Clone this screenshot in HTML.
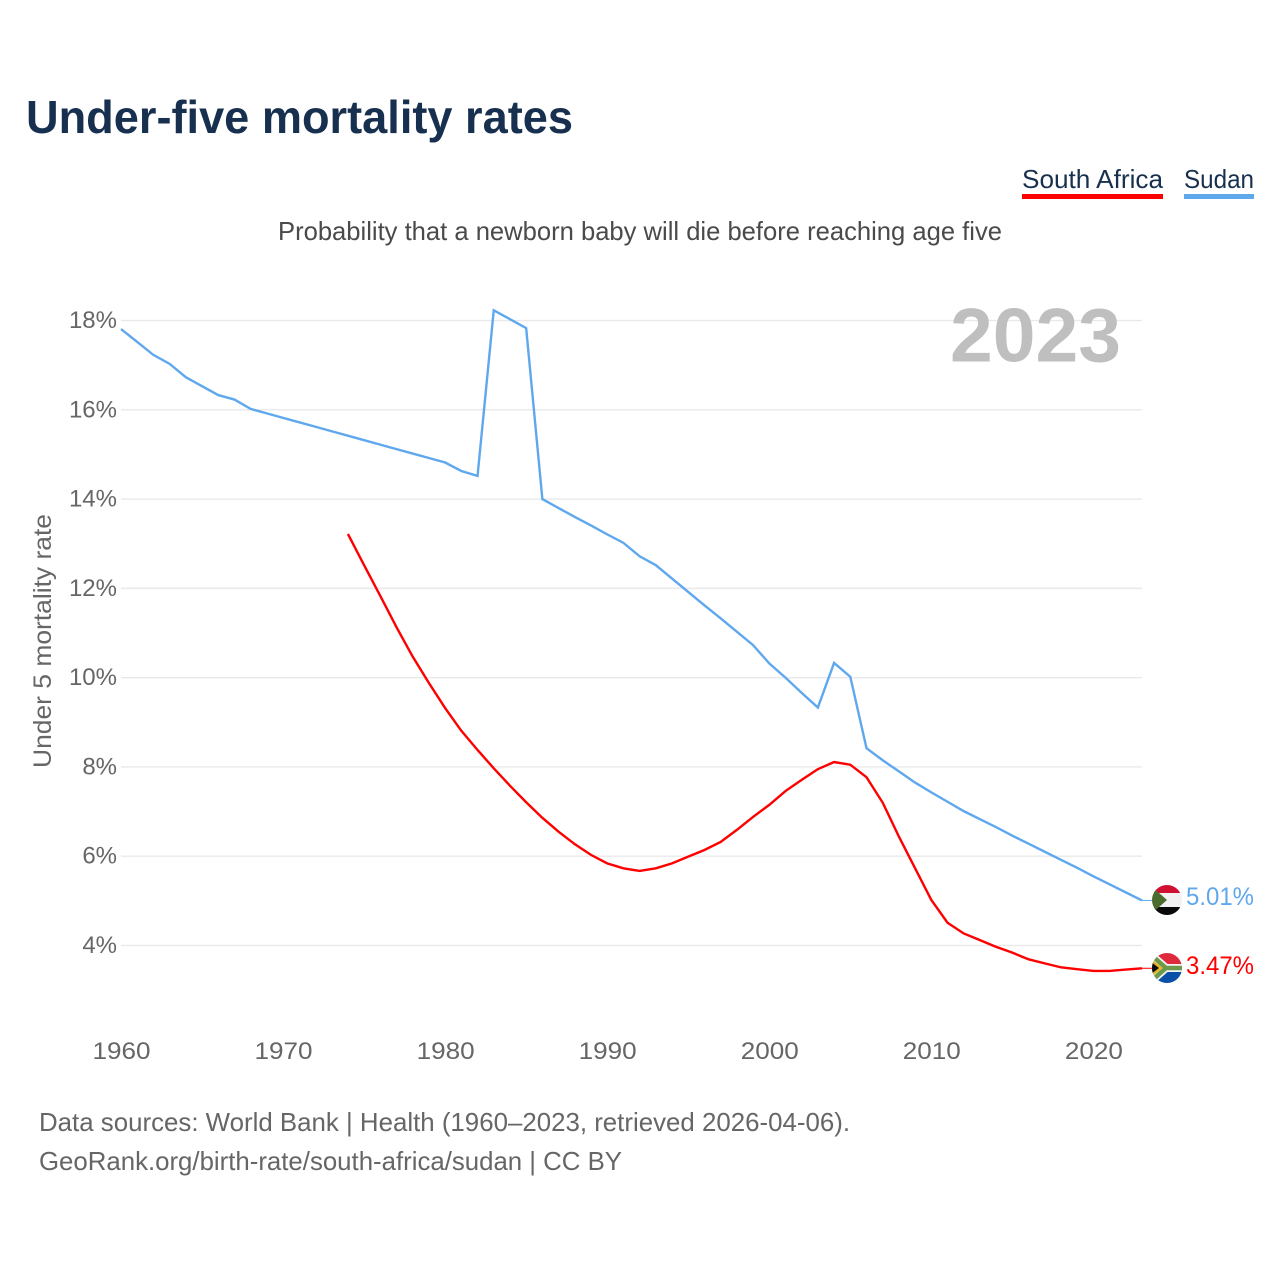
<!DOCTYPE html>
<html lang="en">
<head>
<meta charset="utf-8">
<title>Under-five mortality rates</title>
<style>
html,body{margin:0;padding:0;background:#fff;}
svg{display:block;}
text{font-family:"Liberation Sans",sans-serif;}
</style>
</head>
<body>
<svg id="chart" xmlns="http://www.w3.org/2000/svg" width="1280" height="1280" viewBox="0 0 1280 1280">
  <defs>
    <clipPath id="clip-sudan"><circle cx="1167" cy="900" r="15"/></clipPath>
    <clipPath id="clip-sa"><circle cx="1167" cy="968" r="15"/></clipPath>
  </defs>
  <rect width="1280" height="1280" fill="#fff"/>
  <text x="26" y="133" font-size="46" font-weight="700" fill="#18304f" textLength="547" lengthAdjust="spacingAndGlyphs">Under-five mortality rates</text>

  <g>
    <text x="1022" y="188" font-size="26" fill="#18304f" textLength="141" lengthAdjust="spacingAndGlyphs">South Africa</text>
    <rect x="1022" y="194" width="141" height="5" fill="#ff0000"/>
  </g>
  <g>
    <text x="1184" y="188" font-size="26" fill="#18304f" textLength="70" lengthAdjust="spacingAndGlyphs">Sudan</text>
    <rect x="1184" y="194" width="70" height="5" fill="#5fa8ee"/>
  </g>

  <text x="278" y="240" font-size="26" fill="#4a4a4a" textLength="724" lengthAdjust="spacingAndGlyphs">Probability that a newborn baby will die before reaching age five</text>
  <text transform="translate(51,768) rotate(-90)" font-size="25" fill="#666" textLength="254" lengthAdjust="spacingAndGlyphs">Under 5 mortality rate</text>

  <g id="grid"></g>
  <g id="y-ticks"></g>
  <g id="x-ticks"></g>

  <text x="950" y="361.5" font-size="76" font-weight="700" fill="#bfbfbf" textLength="171" lengthAdjust="spacingAndGlyphs">2023</text>

  <g id="series"></g>

  <g clip-path="url(#clip-sudan)">
    <rect x="1150" y="884" width="34" height="9" fill="#d21034"/>
    <rect x="1150" y="893" width="34" height="14" fill="#f2f2f2"/>
    <rect x="1150" y="907" width="34" height="9" fill="#0a0a0a"/>
    <polygon points="1150,885 1167,900 1150,915" fill="#4b6b2c"/>
  </g>
  <g clip-path="url(#clip-sa)">
    <rect x="1150" y="952" width="34" height="16" fill="#de2a3c"/>
    <rect x="1150" y="968" width="34" height="16" fill="#0a4fa8"/>
    <path d="M1148 952 L1166 968 H1184 M1148 984 L1166 968" fill="none" stroke="#f4f4f4" stroke-width="8"/>
    <path d="M1148 952 L1166 968 H1184 M1148 984 L1166 968" fill="none" stroke="#6a9a4a" stroke-width="4.5"/>
    <polygon points="1148,958 1161,968 1148,978" fill="#0a0a0a" stroke="#e6b72a" stroke-width="2.5"/>
  </g>
  <text id="label-sudan" x="1186" y="905" font-size="25" fill="#5fa8ee" textLength="68" lengthAdjust="spacingAndGlyphs">5.01%</text>
  <text id="label-sa" x="1186" y="974" font-size="25" fill="#ff0000" textLength="68" lengthAdjust="spacingAndGlyphs">3.47%</text>

  <text x="39" y="1131" font-size="26" fill="#666" textLength="811" lengthAdjust="spacingAndGlyphs">Data sources: World Bank | Health (1960–2023, retrieved 2026-04-06).</text>
  <text x="39" y="1170" font-size="26" fill="#666" textLength="583" lengthAdjust="spacingAndGlyphs">GeoRank.org/birth-rate/south-africa/sudan | CC BY</text>
</svg>

<script>
const years = [1960,1961,1962,1963,1964,1965,1966,1967,1968,1969,1970,1971,1972,1973,1974,1975,1976,1977,1978,1979,1980,1981,1982,1983,1984,1985,1986,1987,1988,1989,1990,1991,1992,1993,1994,1995,1996,1997,1998,1999,2000,2001,2002,2003,2004,2005,2006,2007,2008,2009,2010,2011,2012,2013,2014,2015,2016,2017,2018,2019,2020,2021,2022,2023];
const sudanValues = [17.81,17.52,17.23,17.03,16.73,16.53,16.33,16.23,16.02,15.92,15.82,15.72,15.62,15.52,15.42,15.32,15.22,15.12,15.02,14.92,14.82,14.63,14.52,18.23,18.03,17.83,14.0,13.8,13.6,13.41,13.21,13.02,12.72,12.52,12.22,11.92,11.62,11.33,11.03,10.73,10.32,10.0,9.66,9.33,10.33,10.02,8.42,8.15,7.9,7.65,7.43,7.22,7.01,6.83,6.65,6.46,6.28,6.1,5.92,5.74,5.55,5.37,5.19,5.01];
const southAfricaValues = [null,null,null,null,null,null,null,null,null,null,null,null,null,null,13.22,12.52,11.83,11.13,10.47,9.88,9.32,8.81,8.38,7.97,7.58,7.21,6.86,6.55,6.27,6.03,5.84,5.73,5.67,5.73,5.84,5.99,6.14,6.32,6.59,6.88,7.15,7.46,7.71,7.95,8.11,8.05,7.77,7.2,6.44,5.73,5.02,4.51,4.27,4.12,3.97,3.84,3.69,3.6,3.51,3.47,3.43,3.43,3.46,3.49];
const yTickValues = [4,6,8,10,12,14,16,18];
const xTickValues = [1960,1970,1980,1990,2000,2010,2020];

const SVG_NS = 'http://www.w3.org/2000/svg';
const xLeft = 121, xRight = 1142, year0 = 1960, year1 = 2023;
const yAt4 = 945.5, pxPerUnit = 44.64;
function xScale(year){ return xLeft + (year - year0) * (xRight - xLeft) / (year1 - year0); }
function yScale(val){ return yAt4 - (val - 4) * pxPerUnit; }

const gridGroup = document.getElementById('grid');
const yTickGroup = document.getElementById('y-ticks');
const xTickGroup = document.getElementById('x-ticks');
const seriesGroup = document.getElementById('series');

yTickValues.forEach(function(v){
  const line = document.createElementNS(SVG_NS,'line');
  
  
  line.setAttribute('x1', xLeft);
  line.setAttribute('x2', xRight);
  line.setAttribute('y1', yScale(v));
  line.setAttribute('y2', yScale(v));
  line.setAttribute('stroke', '#e9e9e9');
  line.setAttribute('stroke-width', '1.4');
  gridGroup.appendChild(line);

  const label = document.createElementNS(SVG_NS,'text');
  
  
  label.setAttribute('x', 117);
  label.setAttribute('y', yScale(v) + 7.5);
  label.setAttribute('text-anchor', 'end');
  label.setAttribute('font-size', '24');
  label.setAttribute('fill', '#666');
  label.textContent = v + '%';
  yTickGroup.appendChild(label);
});

xTickValues.forEach(function(t){
  const label = document.createElementNS(SVG_NS,'text');
  
  
  label.setAttribute('x', xScale(t) + 0.5);
  label.setAttribute('y', 1059);
  label.setAttribute('text-anchor', 'middle');
  label.setAttribute('font-size', '24');
  label.setAttribute('fill', '#666');
  label.setAttribute('textLength', '58');
  label.setAttribute('lengthAdjust', 'spacingAndGlyphs');
  label.textContent = String(t);
  xTickGroup.appendChild(label);
});

function seriesPoints(values){
  const pts = [];
  values.forEach(function(v,i){
    if (v !== null) pts.push(xScale(years[i]).toFixed(2) + ',' + yScale(v).toFixed(2));
  });
  return pts.join(' ');
}

const sudanLine = document.createElementNS(SVG_NS,'polyline');


sudanLine.setAttribute('points', seriesPoints(sudanValues));
sudanLine.setAttribute('fill', 'none');
sudanLine.setAttribute('stroke', '#5fa8ee');
sudanLine.setAttribute('stroke-width', '2.4');
seriesGroup.appendChild(sudanLine);

const southAfricaLine = document.createElementNS(SVG_NS,'polyline');


southAfricaLine.setAttribute('points', seriesPoints(southAfricaValues));
southAfricaLine.setAttribute('fill', 'none');
southAfricaLine.setAttribute('stroke', '#ff0000');
southAfricaLine.setAttribute('stroke-width', '2.4');
seriesGroup.appendChild(southAfricaLine);

const sudanConnector = document.createElementNS(SVG_NS,'line');


sudanConnector.setAttribute('x1', xRight);
sudanConnector.setAttribute('x2', xRight + 10);
sudanConnector.setAttribute('y1', yScale(sudanValues[sudanValues.length - 1]));
sudanConnector.setAttribute('y2', yScale(sudanValues[sudanValues.length - 1]));
sudanConnector.setAttribute('stroke', '#5fa8ee');
sudanConnector.setAttribute('stroke-width', '1');
seriesGroup.appendChild(sudanConnector);

const southAfricaConnector = document.createElementNS(SVG_NS,'line');


southAfricaConnector.setAttribute('x1', xRight);
southAfricaConnector.setAttribute('x2', xRight + 10);
southAfricaConnector.setAttribute('y1', yScale(southAfricaValues[southAfricaValues.length - 1]));
southAfricaConnector.setAttribute('y2', yScale(southAfricaValues[southAfricaValues.length - 1]));
southAfricaConnector.setAttribute('stroke', '#ff0000');
southAfricaConnector.setAttribute('stroke-width', '1');
seriesGroup.appendChild(southAfricaConnector);
</script>
</body>
</html>
